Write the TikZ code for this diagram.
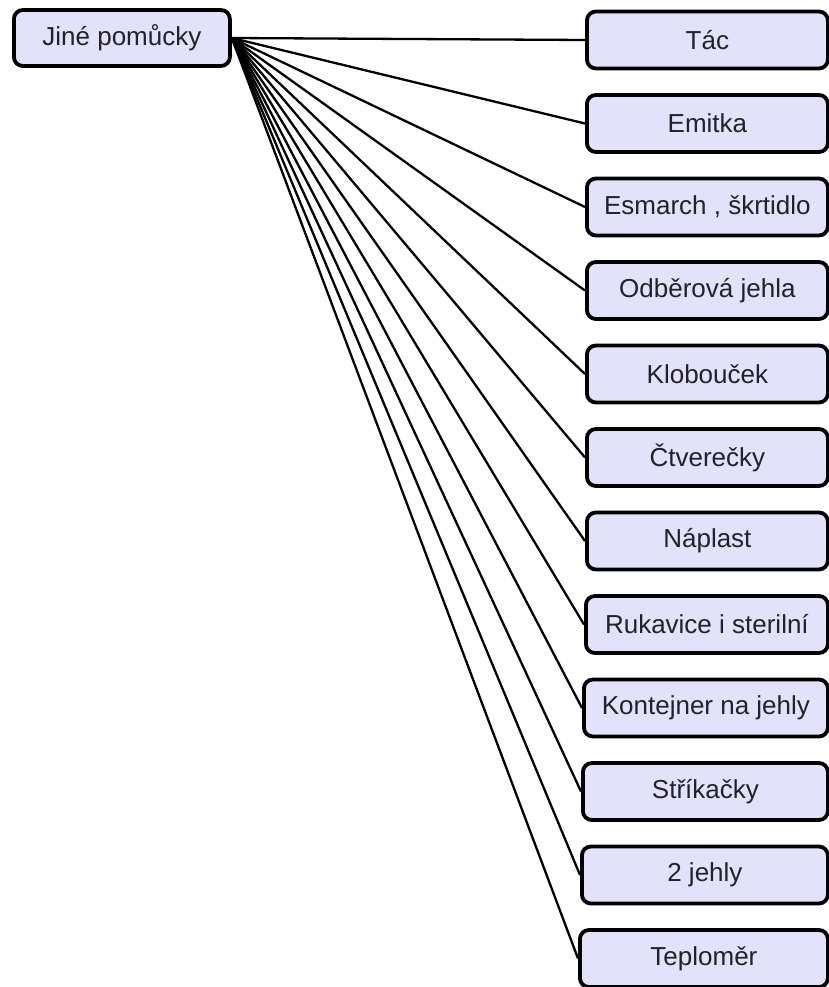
\documentclass[tikz,border=0pt]{standalone}
\usepackage{fontspec}
\setmainfont{Liberation Sans}
\definecolor{boxfill}{RGB}{226,226,250}
\definecolor{boxtext}{RGB}{34,34,40}
\begin{document}
\begin{tikzpicture}[x=1pt,y=-1pt,
  itembox/.style={draw=black, line width=3.8pt, rounded corners=9pt, fill=boxfill,
    text=boxtext, font=\fontsize{26}{30}\selectfont, inner sep=0pt, anchor=west},
  link/.style={draw=black, line width=2.3pt}]
  \useasboundingbox (0,0) rectangle (829,987);
  % root item
  \node[itembox, minimum width=216pt, minimum height=56pt] (root) at (12,38) {Jiné pomůcky};
  % list of items on the right
  \foreach \i/\lx/\name/\txt in {
      0/585/tac/Tác,
      1/585/emitka/Emitka,
      2/585/esmarch/{Esmarch , škrtidlo},
      3/585/jehla/Odběrová jehla,
      4/585/klobou/Klobouček,
      5/585/ctver/Čtverečky,
      6/585/naplast/Náplast,
      7/584/rukav/Rukavice i sterilní,
      8/582/kontej/Kontejner na jehly,
      9/581/strik/Stříkačky,
      10/580/jehly/2 jehly,
      11/578/teplo/Teploměr}{
    \node[itembox, minimum width={826-\lx}, minimum height=57pt]
      (\name) at (\lx,{40+83.5*\i}) {\txt};
    \draw[link] (root.east) -- (\name.west);
  }
\end{tikzpicture}
\end{document}
